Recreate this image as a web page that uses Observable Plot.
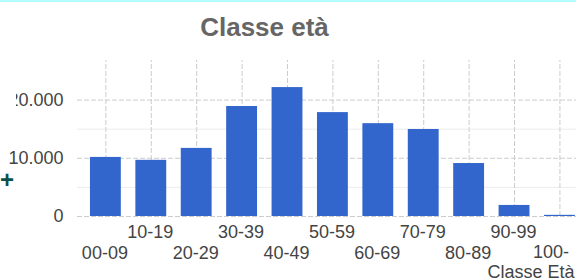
<!DOCTYPE html>
<html>
<head>
<meta charset="utf-8">
<script src="https://cdn.jsdelivr.net/npm/d3@7"></script>
<script src="https://cdn.jsdelivr.net/npm/@observablehq/plot@0.6"></script>
<style>
  html, body { margin: 0; padding: 0; background: #fff; }
  body { width: 576px; height: 280px; position: relative; overflow: hidden; font-family: "Liberation Sans", Arial, sans-serif; }
  #topline { position: absolute; left: 0; top: 0; width: 576px; height: 2px; background: #b3fefe; }
  #title { position: absolute; left: 0; top: 9px; width: 529px; text-align: center; font-weight: bold; font-size: 26px; color: #666; line-height: 36px; }
  #leftmask { position: absolute; left: 0; top: 60px; width: 16px; height: 90px; background: #fff; }
  #plus { position: absolute; left: 0; top: 168px; font-size: 24px; font-weight: bold; color: #0d4f47; line-height: 24px; }
  #chart { position: absolute; left: 0; top: 0; }
</style>
</head>
<body>
<div id="chart"></div>
<div id="topline"></div>
<div id="title">Classe età</div>
<div id="leftmask"></div>
<div id="plus">+</div>
<script>
const categories = ["00-09", "10-19", "20-29", "30-39", "40-49", "50-59", "60-69", "70-79", "80-89", "90-99", "100-"];
const values = [10150, 9650, 11700, 18900, 22150, 17850, 15950, 14950, 9100, 1900, 200];
const yTicks = [0, 10000, 20000];
const yMinor = [5000, 15000];
const axisTitle = "Classe Età";

const data = categories.map((c, i) => ({cat: c, value: values[i]}));
const evenCats = categories.filter((c, i) => i % 2 === 0 && i < categories.length - 1);
const oddCats = categories.filter((c, i) => i % 2 === 1);
const lastCat = [categories[categories.length - 1]];
const fmt = d => d3.format(",")(d).replace(/,/g, ".");

const chart = Plot.plot({
  width: 576,
  height: 280,
  marginTop: 60,
  marginBottom: 64,
  marginLeft: 77,
  marginRight: 0,
  style: {fontFamily: "Liberation Sans, Arial, sans-serif", fontSize: "18px", color: "#444", background: "transparent"},
  x: {domain: categories, paddingInner: 0.32, paddingOuter: 0.155, align: 0.92, round: false, axis: null},
  y: {domain: [0, 26800], axis: null},
  marks: [
    Plot.ruleY(yMinor, {stroke: "#ececec", strokeWidth: 1}),
    Plot.ruleY(yTicks, {stroke: "#cccccc", strokeWidth: 1, strokeDasharray: "5,2"}),
    Plot.ruleX(categories, {x: d => d, y1: 0, y2: 26800, stroke: "#cccccc", strokeWidth: 1, strokeDasharray: "5,2"}),
    Plot.barY(data, {x: "cat", y: "value", fill: "#3366cc"}),
    Plot.text(yTicks, {y: d => d, text: fmt, frameAnchor: "left", textAnchor: "end", dx: -14, fill: "#444", fontSize: 18}),
    Plot.text(oddCats, {x: d => d, text: d => d, frameAnchor: "bottom", dy: 16, dx: -1, lineAnchor: "middle", fill: "#444", fontSize: 18}),
    Plot.text(evenCats, {x: d => d, text: d => d, frameAnchor: "bottom", dy: 37, dx: -1, lineAnchor: "middle", fill: "#444", fontSize: 18}),
    Plot.text(lastCat, {x: d => d, text: d => d, frameAnchor: "bottom", dy: 36, dx: 9, textAnchor: "end", lineAnchor: "middle", fill: "#444", fontSize: 18}),
    Plot.text([axisTitle], {text: d => d, frameAnchor: "bottom-right", textAnchor: "end", dx: -2, dy: 56, lineAnchor: "middle", fill: "#444", fontSize: 18})
  ]
});
document.getElementById("chart").appendChild(chart);
</script>
</body>
</html>
